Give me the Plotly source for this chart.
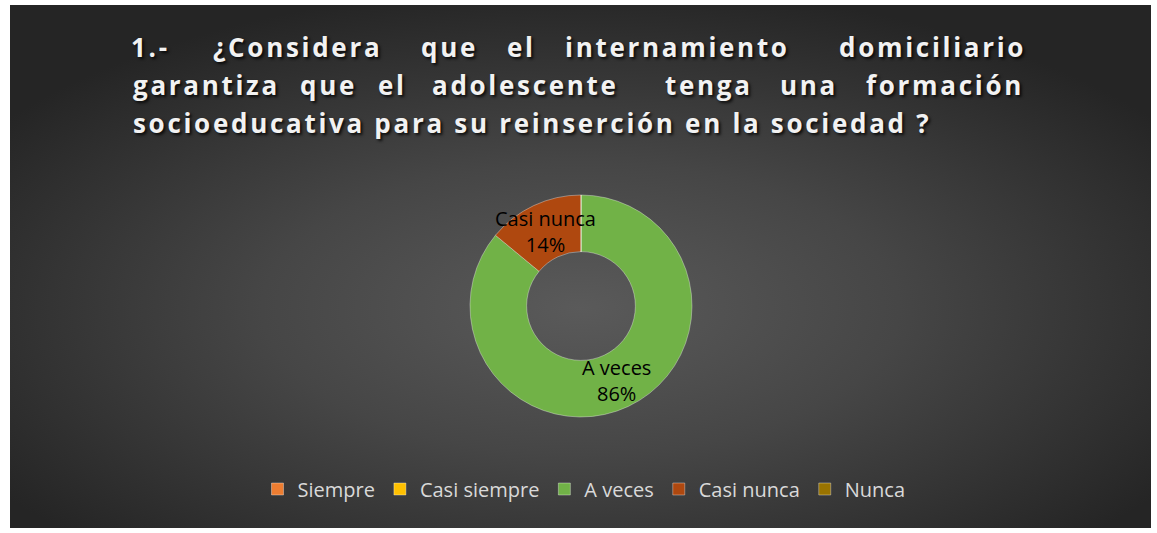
import base64
import math
import plotly.graph_objects as go

# ---------------- data ----------------
categories = ["Siempre", "Casi siempre", "A veces", "Casi nunca", "Nunca"]
percent_values = [0, 0, 86, 14, 0]
slice_colors = ["#ED7D31", "#FFC000", "#71B247", "#AF480F", "#997300"]

title_line1 = ["1.-", "¿Considera", "que", "el", "internamiento", "domiciliario"]
title_line2 = ["garantiza", "que", "el", "adolescente", "tenga", "una", "formación"]
title_line3 = "socioeducativa para su reinserción en la sociedad ?"

# ---------------- layout helpers ----------------
W, H = 1157, 533
PIE_CX, PIE_CY, PIE_R, HOLE = 581, 306, 111, 0.49
line1_centers = [150, 297, 449, 521, 677, 932]        # px, justified layout
line2_centers = [206, 328, 392, 525, 709, 809, 945]
line_y = [47, 85, 123]
line3_left = 131

FONT = "Open Sans"
TITLE_SIZE = 26
LS = "2.7px"

fig = go.Figure()

fig.add_trace(go.Pie(
    labels=categories,
    values=percent_values,
    sort=False,
    direction="clockwise",
    rotation=0,
    hole=HOLE,
    marker=dict(colors=slice_colors, line=dict(color="rgba(255,255,255,0.35)", width=1)),
    textinfo="none",
    domain=dict(x=[(PIE_CX - PIE_R) / W, (PIE_CX + PIE_R) / W],
                y=[(H - PIE_CY - PIE_R) / H, (H - PIE_CY + PIE_R) / H]),
    hoverinfo="label+percent",
))

# data labels at the middle of each non-empty slice (derived from the values)
annotations = []
total = sum(percent_values)
cum = 0.0
r_mid = PIE_R * (1 + HOLE) / 2
for lab, v in zip(categories, percent_values):
    if v > 0:
        mid = (cum + v / 2) / total * 2 * math.pi
        px = PIE_CX + r_mid * math.sin(mid)
        py = PIE_CY - r_mid * math.cos(mid)
        annotations.append(dict(text=f"{lab}<br>{round(v / total * 100)}%", x=px / W, y=1 - py / H,
                                xref="paper", yref="paper", xanchor="center", yanchor="middle",
                                showarrow=False, font=dict(family=FONT, size=20, color="#000000")))
    cum += v

# background radial gradient
svg = (
    '<svg xmlns="http://www.w3.org/2000/svg" width="1141" height="523" preserveAspectRatio="none">'
    '<defs><radialGradient id="g" cx="50%" cy="58%" r="62%">'
    '<stop offset="0" stop-color="#5a5a5a"/><stop offset="0.45" stop-color="#464646"/>'
    '<stop offset="1" stop-color="#252525"/></radialGradient></defs>'
    '<rect width="1141" height="523" fill="url(#g)"/></svg>'
)
src = "data:image/svg+xml;base64," + base64.b64encode(svg.encode()).decode()

tfont = dict(family=FONT, size=TITLE_SIZE, color="#f2f2f2", weight="bold",
             shadow="2px 2px 3px rgba(0,0,0,0.8)")


def word(txt):
    return f'<span style="letter-spacing:{LS}">{txt}</span>'


for w_, cx in zip(title_line1, line1_centers):
    annotations.append(dict(text=word(w_), x=cx / W, y=1 - line_y[0] / H, xref="paper", yref="paper",
                            xanchor="center", yanchor="middle", showarrow=False, font=tfont))
for w_, cx in zip(title_line2, line2_centers):
    annotations.append(dict(text=word(w_), x=cx / W, y=1 - line_y[1] / H, xref="paper", yref="paper",
                            xanchor="center", yanchor="middle", showarrow=False, font=tfont))
annotations.append(dict(text=word(title_line3), x=line3_left / W, y=1 - line_y[2] / H, xref="paper",
                        yref="paper", xanchor="left", yanchor="middle", showarrow=False, font=tfont))

fig.update_layout(
    width=W, height=H,
    margin=dict(l=0, r=0, t=0, b=0),
    paper_bgcolor="#ffffff",
    plot_bgcolor="rgba(0,0,0,0)",
    images=[dict(source=src, xref="paper", yref="paper", x=10 / W, y=1 - 5 / H,
                 sizex=1141 / W, sizey=523 / H, sizing="stretch", xanchor="left", yanchor="top",
                 layer="below")],
    annotations=annotations,
    showlegend=True,
    legend=dict(orientation="h", x=584 / W, xanchor="center", y=1 - 489 / H, yanchor="middle",
                font=dict(family=FONT, size=20, color="#d9d9d9"), bgcolor="rgba(0,0,0,0)",
                traceorder="normal"),
)

fig.write_html("out.html", config={"displayModeBar": False},
               post_script="document.body.style.margin='0px';")
